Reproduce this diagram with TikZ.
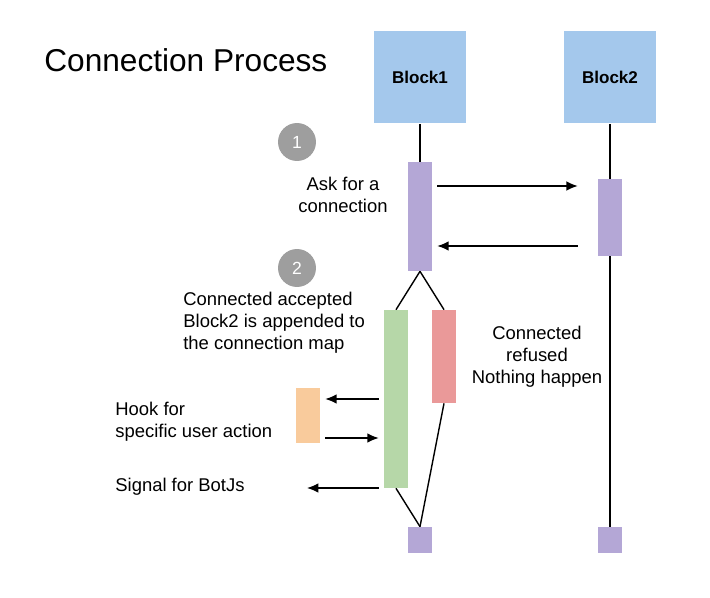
\documentclass[tikz,border=0pt]{standalone}
\usepackage{fontspec}
\setmainfont{Liberation Sans}
\usetikzlibrary{positioning,arrows.meta}

\definecolor{blockblue}{HTML}{A4C8EC}
\definecolor{actpurple}{HTML}{B4A7D6}
\definecolor{okgreen}{HTML}{B6D7A8}
\definecolor{norred}{HTML}{EA9999}
\definecolor{hookorange}{HTML}{F9CB9C}
\definecolor{stepgray}{HTML}{9E9E9E}

\tikzset{
    block/.style={fill=blockblue, minimum width=1.86cm, minimum height=1.86cm, inner sep=0pt, font=\bfseries\fontsize{9.7}{11}\selectfont},
    bar/.style={minimum width=0.48cm, inner sep=0pt},
    msg/.style={-{Latex[length=6.5pt,width=5.5pt]}, line width=0.8pt},
    life/.style={line width=0.8pt},
    num/.style={circle, fill=stepgray, text=white, minimum size=0.76cm, inner sep=0pt, font=\fontsize{10}{12}\selectfont},
    note/.style={font=\fontsize{10.5}{12.5}\selectfont, inner sep=0pt}
}

\begin{document}
\begin{tikzpicture}[x=0.02cm, y=-0.02cm]
    \useasboundingbox (0,0) rectangle (710,598);

    % Title
    \node[anchor=west, font=\fontsize{18}{22}\selectfont, inner sep=0pt] (title) at (44,60) {Connection Process};

    % Blocks
    \node[block] (block1) at (420,77) {Block1};
    \node[block] (block2) at (610,77) {Block2};

    % Activation bars
    \node[bar, fill=actpurple, minimum height=2.18cm] (act1) at (420,216.5) {};
    \node[bar, fill=actpurple, minimum height=1.54cm] (bar2) at (610,217.5) {};
    \node[bar, fill=okgreen, minimum height=3.56cm] (ok) at (396,399) {};
    \node[bar, fill=norred, minimum height=1.86cm] (refuse) at (444,356.5) {};
    \node[bar, fill=hookorange, minimum height=1.10cm] (hook) at (308,415.5) {};
    \node[bar, fill=actpurple, minimum height=0.52cm] (end1) at (420,540) {};
    \node[bar, fill=actpurple, minimum height=0.52cm] (end2) at (610,540) {};

    % Life lines
    \draw[life] (block1) -- (act1);
    \draw[life] (block2) -- (bar2);
    \draw[life] (bar2) -- (end2);
    \draw[life] (act1.south) -- (ok.north);
    \draw[life] (act1.south) -- (refuse.north);
    \draw[life] (ok.south) -- (end1.north);
    \draw[life] (refuse.south) -- (end1.north);

    % Messages
    \draw[msg, shorten <=2.8pt, shorten >=11.3pt] (act1.east |- 0,186) -- (bar2.west |- 0,186);
    \draw[msg, shorten <=11.3pt, shorten >=2.8pt] (bar2.west |- 0,246) -- (act1.east |- 0,246);
    \draw[msg, shorten <=2.8pt, shorten >=2.8pt] (ok.west |- 0,399) -- (hook.east |- 0,399);
    \draw[msg, shorten <=2.8pt, shorten >=2.8pt] (hook.east |- 0,438) -- (ok.west |- 0,438);
    \coordinate (botjs) at (307,488);
    \draw[msg, shorten <=2.8pt] (ok.west |- botjs) -- (botjs);

    % Steps
    \node[num] (step1) at (297,142) {1};
    \node[num] (step2) at (297,268) {2};

    % Labels
    \node[note, align=center] (ask) at (343,195) {Ask for a\\connection};
    \node[note, align=left, anchor=west] (accepted) at (183,323) {Connected accepted\\Block2 is appended to\\the connection map};
    \node[note, align=center] (refused) at (537,357) {Connected\\refused\\Nothing happen};
    \node[note, align=left, anchor=west] (hooktxt) at (115,422) {Hook for\\specific user action};
    \node[note, anchor=west] (signal) at (115,487) {Signal for BotJs};
\end{tikzpicture}
\end{document}
